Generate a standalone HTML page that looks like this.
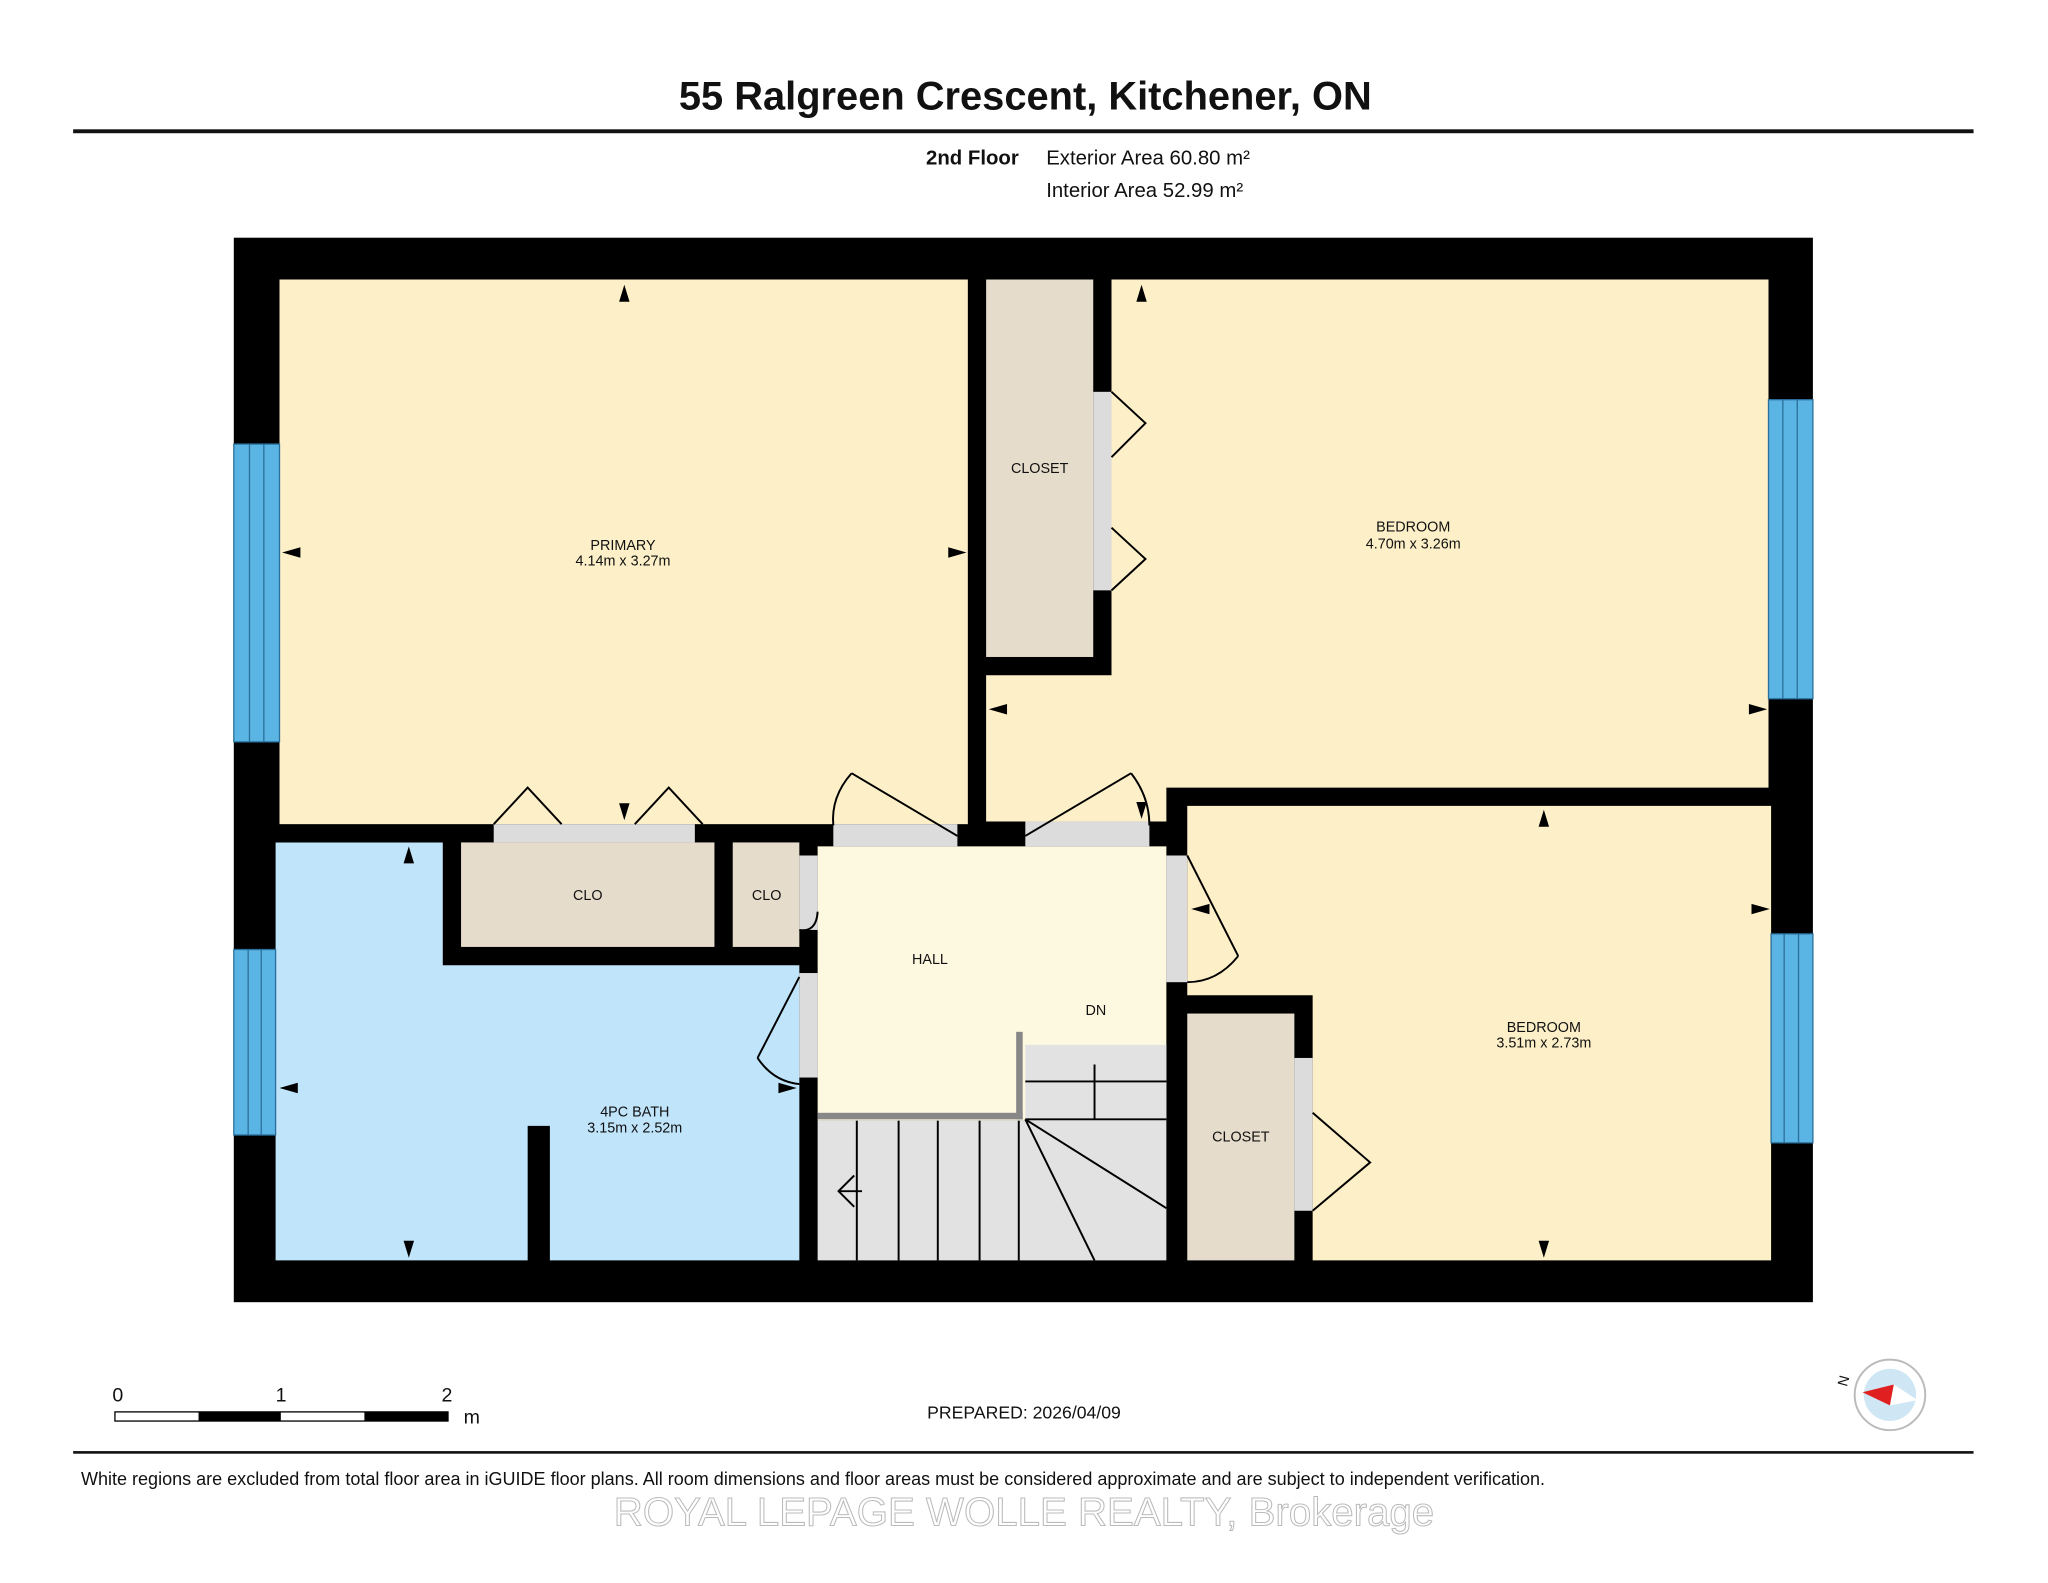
<!DOCTYPE html>
<html><head><meta charset="utf-8"><style>
html,body{margin:0;padding:0;background:#fff;}
svg{display:block;}
text{font-family:"Liberation Sans",Arial,sans-serif;}
</style></head><body>
<svg width="2048" height="1583" viewBox="0 0 1568 1212" preserveAspectRatio="none" xmlns="http://www.w3.org/2000/svg">
<rect width="1568" height="1212" fill="#fff"/>
<text x="785" y="84" font-size="30.5" font-weight="bold" text-anchor="middle" fill="#111">55 Ralgreen Crescent, Kitchener, ON</text>
<rect x="56" y="99" width="1455" height="3" fill="#111"/>
<text x="709" y="126" font-size="15.6" font-weight="bold" fill="#111">2nd Floor</text>
<text x="801" y="126" font-size="15.6" fill="#111">Exterior Area 60.80 m²</text>
<text x="801" y="151" font-size="15.6" fill="#111">Interior Area 52.99 m²</text>

<rect x="179" y="182" width="1209" height="815" fill="#000"/>
<rect x="214" y="214" width="527" height="417" fill="#fdf0c8"/>
<rect x="755" y="214" width="82" height="289" fill="#e6dccb"/>
<polygon points="851,214 1354,214 1354,603 893,603 893,629 755,629 755,517 851,517" fill="#fdf0c8"/>
<polygon points="211,645 339,645 339,739 612,739 612,965 421,965 421,862 404,862 404,965 211,965" fill="#c0e4fa"/>
<rect x="353" y="645" width="194" height="80" fill="#e6dccb"/>
<rect x="561" y="645" width="51" height="80" fill="#e6dccb"/>
<rect x="626" y="648" width="267" height="210" fill="#fdf8e0"/>
<polygon points="626,858 785,858 785,800 893,800 893,965 626,965" fill="#e2e2e2"/>
<polygon points="909,617 1356,617 1356,965 1005,965 1005,762 909,762" fill="#fdf0c8"/>
<rect x="909" y="776" width="82" height="189" fill="#e6dccb"/>

<g fill="#5bb5e4" stroke="#2a6f9a" stroke-width="1">
<rect x="179" y="340" width="35" height="228"/>
<rect x="179" y="727" width="32" height="142"/>
<rect x="1354" y="306" width="34" height="229"/>
<rect x="1356" y="715" width="32" height="160"/>
</g>
<g stroke="#2a6f9a" stroke-width="1">
<line x1="191" y1="340" x2="191" y2="568"/><line x1="202" y1="340" x2="202" y2="568"/>
<line x1="190" y1="727" x2="190" y2="869"/><line x1="200" y1="727" x2="200" y2="869"/>
<line x1="1365" y1="306" x2="1365" y2="535"/><line x1="1376" y1="306" x2="1376" y2="535"/>
<line x1="1366" y1="715" x2="1366" y2="875"/><line x1="1377" y1="715" x2="1377" y2="875"/>
</g>

<g fill="#dcdcdc">
<rect x="378" y="631" width="154" height="14"/>
<rect x="638" y="631" width="95" height="17"/>
<rect x="785" y="629" width="95" height="19"/>
<rect x="837" y="300" width="14" height="152"/>
<rect x="612" y="745" width="14" height="80"/>
<rect x="612" y="655" width="14" height="57"/>
<rect x="893" y="655" width="16" height="97"/>
<rect x="991" y="810" width="14" height="117"/>
</g>
<g stroke="#000" stroke-width="1.5" fill="none">
<polyline points="378,631 404,603 430,631"/>
<polyline points="486,631 512,603 538,631"/>
<polyline points="851,300 877,324 851,350"/>
<polyline points="851,404 877,428 851,452"/>
<polyline points="1005,852 1049,890 1005,927"/>
<line x1="733" y1="640" x2="652" y2="592"/><path d="M652,592 Q636,610 638,632"/>
<line x1="785" y1="640" x2="866" y2="592"/><path d="M866,592 Q880,610 880,632"/>
<line x1="612" y1="748" x2="580" y2="810"/><path d="M580,810 Q592,828 612,830"/>
<path d="M612,712 Q625,714 626,698"/>
<line x1="909" y1="655" x2="948" y2="732"/><path d="M948,732 Q932,752 909,752"/>
</g>

<g stroke="#000" stroke-width="1.5">
<line x1="656" y1="858" x2="656" y2="965"/><line x1="688" y1="858" x2="688" y2="965"/>
<line x1="718" y1="858" x2="718" y2="965"/><line x1="750" y1="858" x2="750" y2="965"/>
<line x1="780" y1="858" x2="780" y2="965"/>
<line x1="785" y1="828" x2="893" y2="828"/><line x1="785" y1="857" x2="893" y2="857"/>
<line x1="838" y1="815" x2="838" y2="857"/>
<line x1="785" y1="857" x2="893" y2="925"/><line x1="785" y1="857" x2="838" y2="965"/>
<line x1="643" y1="912" x2="660" y2="912"/>
<polyline points="654,900 642,912 654,924" fill="none"/>
</g>
<g fill="#888"><rect x="626" y="852" width="157" height="5"/><rect x="778" y="790" width="5" height="67"/></g>

<g fill="#000">
<polygon points="478,218 474,231 482,231"/>
<polygon points="216,423 230,419 230,427"/>
<polygon points="740,423 726,419 726,427"/>
<polygon points="874,218 870,231 878,231"/>
<polygon points="757,543 771,539 771,547"/>
<polygon points="1353,543 1339,539 1339,547"/>
<polygon points="1182,620 1178,633 1186,633"/>
<polygon points="912,696 926,692 926,700"/>
<polygon points="1355,696 1341,692 1341,700"/>
<polygon points="1182,963 1178,950 1186,950"/>
<polygon points="313,648 309,661 317,661"/>
<polygon points="313,963 309,950 317,950"/>
<polygon points="214,833 228,829 228,837"/>
<polygon points="610,833 596,829 596,837"/>
<polygon points="478,628 474,615 482,615"/>
<polygon points="874,627 870,614 878,614"/>
</g>

<g font-size="11" fill="#111" text-anchor="middle">
<text x="477" y="421">PRIMARY</text><text x="477" y="433">4.14m x 3.27m</text>
<text x="796" y="362">CLOSET</text>
<text x="1082" y="407">BEDROOM</text><text x="1082" y="420">4.70m x 3.26m</text>
<text x="450" y="689">CLO</text><text x="587" y="689">CLO</text>
<text x="712" y="738">HALL</text><text x="839" y="777">DN</text>
<text x="486" y="855">4PC BATH</text><text x="486" y="867">3.15m x 2.52m</text>
<text x="950" y="874">CLOSET</text>
<text x="1182" y="790">BEDROOM</text><text x="1182" y="802">3.51m x 2.73m</text>
</g>

<g font-size="15" fill="#111">
<text x="86" y="1073">0</text><text x="211" y="1073">1</text><text x="338" y="1073">2</text>
<text x="355" y="1090">m</text>
</g>
<rect x="88" y="1081" width="255" height="7" fill="#fff" stroke="#000" stroke-width="1"/>
<rect x="152" y="1081" width="63" height="7" fill="#000"/>
<rect x="279" y="1081" width="64" height="7" fill="#000"/>
<text x="784" y="1086" font-size="13.5" text-anchor="middle" fill="#111">PREPARED: 2026/04/09</text>

<circle cx="1447" cy="1068" r="27" fill="#fff" stroke="#bbb" stroke-width="1.5"/>
<circle cx="1447" cy="1068" r="20" fill="#cfe6f5"/>
<polygon points="1426,1066 1450,1060 1447,1076" fill="#e02020"/>
<polygon points="1450,1060 1468,1072 1447,1076" fill="#fff"/>
<text x="1414" y="1062" font-size="11" fill="#111" transform="rotate(-75 1414 1062)">N</text>

<rect x="56" y="1111" width="1455" height="2" fill="#111"/>
<text x="62" y="1137" font-size="13.8" fill="#111">White regions are excluded from total floor area in iGUIDE floor plans. All room dimensions and floor areas must be considered approximate and are subject to independent verification.</text>
<text x="784" y="1168" font-size="30.8" text-anchor="middle" fill="#fff" stroke="#bbb" stroke-width="0.8">ROYAL LEPAGE WOLLE REALTY, Brokerage</text>
</svg>
</body></html>
